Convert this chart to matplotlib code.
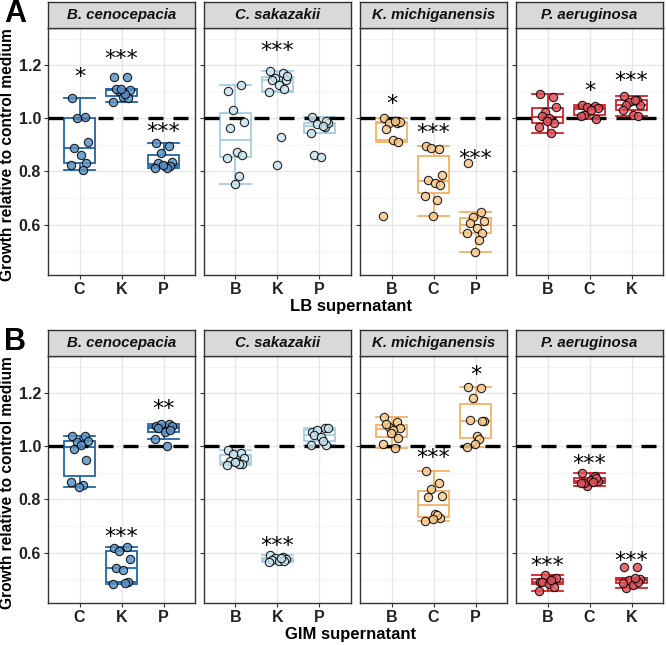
import matplotlib.pyplot as plt
import numpy as np

# ================================
# Data
# ================================

species = ["B. cenocepacia", "C. sakazakii", "K. michiganensis", "P. aeruginosa"]
colors = ["#2166a8", "#a6cee3", "#f3b163", "#d42027"]
point_colors = ["#5c93c6", "#c9e4ee", "#f6c88c", "#e0525c"]

# categories on the x axis of each facet
cats = [["C", "K", "P"], ["B", "K", "P"], ["B", "C", "P"], ["B", "C", "K"]]

# LB supernatant (panel A)
lb_bcen = [[1.078, 1.006, 1.0, 0.912, 0.89, 0.86, 0.831, 0.823, 0.806],
           [1.154, 1.154, 1.104, 1.106, 1.109, 1.081, 1.075, 1.0625, 1.09, 1.11],
           [0.906, 0.894, 0.871, 0.834, 0.831, 0.819, 0.82, 0.8125, 0.8125, 0.825]]
lb_csak = [[1.104, 1.125, 1.031, 0.9875, 0.9625, 0.875, 0.86, 0.85, 0.781, 0.7525],
           [1.179, 1.171, 1.1525, 1.144, 1.144, 1.125, 1.109, 1.10, 0.931, 0.825, 1.16],
           [1.004, 0.966, 0.979, 0.984, 0.86, 0.856, 0.99, 0.945, 0.97]]
lb_kmich = [[1.0025, 0.981, 0.981, 0.985, 0.959, 0.919, 0.909, 0.631, 0.99],
            [0.8975, 0.884, 0.8875, 0.7875, 0.769, 0.756, 0.75, 0.706, 0.691, 0.634],
            [0.831, 0.6475, 0.63, 0.6125, 0.606, 0.5875, 0.569, 0.569, 0.541, 0.496]]
lb_paer = [[1.091, 1.079, 1.025, 1.041, 1.009, 1.0, 0.981, 0.969, 0.946, 0.99],
           [1.05, 1.045, 1.041, 1.0375, 1.0125, 1.03, 0.996, 1.009],
           [1.084, 1.069, 1.06, 1.05, 1.05, 1.0125, 1.009, 1.031, 1.07]]

# GIM supernatant (panel B)
gim_bcen = [[1.04, 1.04, 1.015, 1.02, 0.99, 1.005, 0.949, 0.867, 0.853, 0.847],
            [0.616, 0.62, 0.604, 0.575, 0.54, 0.534, 0.49, 0.481, 0.486],
            [1.076, 1.085, 1.085, 1.076, 1.07, 1.053, 1.06, 1.028, 1.0025]]
gim_csak = [[0.985, 0.975, 0.97, 0.955, 0.945, 0.94, 0.935, 0.93, 0.935, 0.94],
            [0.59, 0.585, 0.58, 0.575, 0.572, 0.57, 0.568, 0.565, 0.578],
            [1.053, 1.068, 1.06, 1.068, 1.044, 1.035, 1.005, 1.005, 1.02]]
gim_kmich = [[1.109, 1.09, 1.072, 1.068, 1.085, 1.06, 1.032, 1.009, 0.992, 1.05],
             [0.9075, 0.86, 0.838, 0.813, 0.809, 0.746, 0.73, 0.718, 0.74, 0.725],
             [1.224, 1.218, 1.18, 1.097, 1.1, 1.04, 1.095, 0.996, 1.028, 1.01]]
gim_paer = [[0.49, 0.5, 0.515, 0.505, 0.49, 0.48, 0.47, 0.455, 0.495],
            [0.901, 0.889, 0.851, 0.87, 0.863, 0.875, 0.88, 0.86, 0.866],
            [0.544, 0.544, 0.496, 0.502, 0.465, 0.477, 0.49, 0.485, 0.505]]

lb_data = [lb_bcen, lb_csak, lb_kmich, lb_paer]
gim_data = [gim_bcen, gim_csak, gim_kmich, gim_paer]

# significance labels: (category index, label, height)
lb_stars = [[(0, "*", 1.175), (1, "***", 1.244), (2, "***", 0.97)],
            [(1, "***", 1.275)],
            [(0, "*", 1.075), (1, "***", 0.965), (2, "***", 0.866)],
            [(1, "*", 1.1225), (2, "***", 1.16)]]
gim_stars = [[(1, "***", 0.68), (2, "**", 1.16)],
             [(1, "***", 0.646)],
             [(1, "***", 0.977), (2, "*", 1.287)],
             [(0, "***", 0.57), (1, "***", 0.954), (2, "***", 0.587)]]

# ================================
# Drawing
# ================================

plt.rcParams['font.family'] = ['Liberation Sans', 'DejaVu Sans']

W, H = 666, 645
fig = plt.figure(figsize=(W / 100, H / 100), dpi=100)

panel_left = [48, 204, 360, 516]
panel_w = 147
jitter_pattern = [-0.18, 0.12, -0.06, 0.2, -0.14, 0.04, 0.16, -0.2, 0.08, -0.02, 0.22]


def px_axes(x0, y_top, w, h):
    return fig.add_axes([x0 / W, 1 - (y_top + h) / H, w / W, h / H])


def draw_row(data, stars, y_top, xlabel, letter):
    plot_top = y_top + 26
    plot_h = 247
    for i, sp in enumerate(species):
        ax = px_axes(panel_left[i], plot_top, panel_w, plot_h)
        groups = data[i]
        bp = ax.boxplot(groups, positions=[1, 2, 3], widths=0.75, showfliers=False,
                        patch_artist=True, whis=1.5, zorder=2)
        for b in bp['boxes']:
            b.set_facecolor('white')
            b.set_edgecolor(colors[i])
            b.set_linewidth(1.3)
        for k in ['whiskers', 'caps', 'medians']:
            for ln in bp[k]:
                ln.set_color(colors[i])
                ln.set_linewidth(1.3)
        for c in bp['caps']:
            mid = c.get_xdata().mean()
            c.set_xdata([mid - 0.375, mid + 0.375])

        ax.set_xlim(0.25, 3.75)
        ax.set_ylim(0.41, 1.34)
        ax.set_yticks([0.6, 0.8, 1.0, 1.2])
        ax.set_yticks([0.5, 0.7, 0.9, 1.1, 1.3], minor=True)
        ax.set_xticks([1, 2, 3])
        ax.set_xticklabels(cats[i])
        if i > 0:
            ax.set_yticklabels([])
        else:
            ax.set_yticklabels(["0.6", "0.8", "1.0", "1.2"])
        ax.grid(which='major', color='#e6e6e6', lw=1.0)
        ax.grid(which='minor', axis='y', color='#f2f2f2', lw=0.6)
        ax.set_axisbelow(True)
        ax.tick_params(which='minor', length=0)
        ax.tick_params(which='major', length=3, color='#333333', width=0.8,
                       labelsize=11.5, pad=2)
        for lab in ax.get_xticklabels() + ax.get_yticklabels():
            lab.set_fontweight('bold')
            lab.set_color('#222222')
        for s in ax.spines.values():
            s.set_color('#333333')
            s.set_linewidth(1.0)

        ax.axhline(1.0, color='black', lw=2.4, dashes=(4.5, 3), zorder=3)

        for j, vals in enumerate(groups):
            vals = np.array(vals)
            xs = (j + 1) + np.array([jitter_pattern[k % len(jitter_pattern)]
                                     for k in range(len(vals))])
            ax.scatter(xs, vals, s=36, facecolor=point_colors[i], edgecolor='black',
                       linewidth=0.8, alpha=0.85, zorder=4)

        for j, lab, y in stars[i]:
            ax.text(j + 1, y - 0.02, lab, ha='center', va='center', fontsize=16,
                    family='DejaVu Sans', color='black', zorder=5)

        # strip header
        sx = px_axes(panel_left[i], y_top, panel_w, 26)
        sx.set_facecolor('#d9d9d9')
        sx.set_xticks([])
        sx.set_yticks([])
        for s in sx.spines.values():
            s.set_color('#333333')
            s.set_linewidth(1.0)
        sx.text(0.5, 0.5, sp, ha='center', va='center', fontsize=10.8,
                fontweight='bold', fontstyle='italic', color='#111111',
                transform=sx.transAxes)

    fig.text(8 / W, 1 - (plot_top + plot_h / 2 + 3) / H, "Growth relative to control medium",
             rotation=90, ha='center', va='center', fontsize=11.2, fontweight='bold')
    fig.text(351 / W, 1 - (plot_top + plot_h + 31) / H, xlabel, ha='center', va='center',
             fontsize=12, fontweight='bold')
    fig.text(4 / W, 1 - (y_top + 12) / H, letter, ha='left', va='center',
             fontsize=22, fontweight='bold')


draw_row(lb_data, lb_stars, 2, "LB supernatant", "A")
draw_row(gim_data, gim_stars, 330, "GIM supernatant", "B")

fig.savefig("out.png", dpi=100)
